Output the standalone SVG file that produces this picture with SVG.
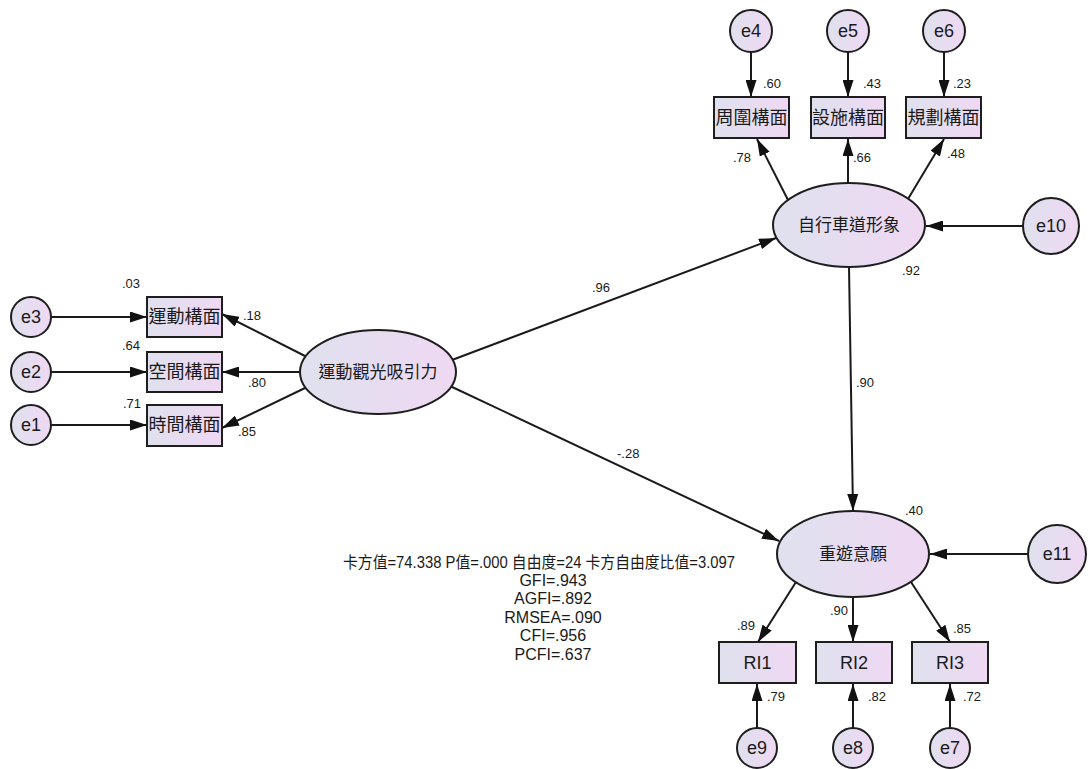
<svg xmlns="http://www.w3.org/2000/svg" width="1089" height="769" viewBox="0 0 1089 769">
<style>
.n{stroke:#1e1e1e;stroke-width:2;fill:url(#g)}
.t{font-family:"Liberation Sans","Noto Sans CJK TC",sans-serif;fill:#1a1a1a;text-anchor:middle;dominant-baseline:central}
.bt{font-size:18px}
.et{font-size:17px}
.ct{font-size:18px}
.lb{font-family:"Liberation Sans","Noto Sans CJK TC",sans-serif;font-size:13px;fill:#1a1a1a}
.fit{font-family:"Liberation Sans","Noto Sans CJK TC",sans-serif;font-size:16px;fill:#1a1a1a;text-anchor:middle}
.c{stroke:#1a1a1a;stroke-width:2;fill:none;marker-end:url(#a)}
</style>
<defs>
<linearGradient id="g" x1="0" y1="0" x2="1" y2="0">
<stop offset="0" stop-color="#dfe1ee"/>
<stop offset="1" stop-color="#efd8f3"/>
</linearGradient>
<marker id="a" viewBox="0 0 17 11" refX="17" refY="5.5" markerWidth="17" markerHeight="11" markerUnits="userSpaceOnUse" orient="auto">
<path d="M0,0 L17,5.5 L0,11 z" fill="#111"/>
</marker>
</defs>
<rect width="1089" height="769" fill="#fff"/>

<g id="connectors">
<line class="c" x1="51" y1="317" x2="147" y2="317"/>
<line class="c" x1="51" y1="372" x2="147" y2="372"/>
<line class="c" x1="51" y1="425" x2="147" y2="425"/>
<line class="c" x1="305" y1="356" x2="222" y2="314"/>
<line class="c" x1="300" y1="372" x2="222" y2="372"/>
<line class="c" x1="305" y1="388" x2="222" y2="428"/>
<line class="c" x1="452" y1="360" x2="776" y2="238"/>
<line class="c" x1="450" y1="386" x2="779" y2="541"/>
<line class="c" x1="751" y1="52" x2="751" y2="97"/>
<line class="c" x1="848" y1="52" x2="848" y2="97"/>
<line class="c" x1="944" y1="52" x2="944" y2="97"/>
<line class="c" x1="788" y1="200" x2="757" y2="139"/>
<line class="c" x1="848" y1="183" x2="848" y2="139"/>
<line class="c" x1="908" y1="199" x2="944" y2="139"/>
<line class="c" x1="1023" y1="226" x2="926" y2="226"/>
<line class="c" x1="849" y1="267" x2="853" y2="511"/>
<line class="c" x1="1028" y1="554" x2="930" y2="554"/>
<line class="c" x1="796" y1="582" x2="758" y2="642"/>
<line class="c" x1="853" y1="597" x2="853" y2="642"/>
<line class="c" x1="911" y1="582" x2="950" y2="642"/>
<line class="c" x1="757" y1="728" x2="757" y2="684"/>
<line class="c" x1="853" y1="728" x2="853" y2="684"/>
<line class="c" x1="950" y1="728" x2="950" y2="684"/>
</g>

<g id="e3"><circle class="n" cx="31" cy="317" r="20"/><text class="t ct" x="31" y="317">e3</text></g>
<g id="e2"><circle class="n" cx="31" cy="372" r="20"/><text class="t ct" x="31" y="372">e2</text></g>
<g id="e1"><circle class="n" cx="31" cy="425" r="20"/><text class="t ct" x="31" y="425">e1</text></g>
<g id="box-sport"><rect class="n" x="147" y="297" width="75" height="40"/><text class="t bt" x="184.5" y="317">運動構面</text></g>
<g id="box-space"><rect class="n" x="147" y="352" width="75" height="40"/><text class="t bt" x="184.5" y="372">空間構面</text></g>
<g id="box-time"><rect class="n" x="147" y="405" width="75" height="41"/><text class="t bt" x="184.5" y="425">時間構面</text></g>
<g id="attract"><ellipse class="n" cx="378" cy="372" rx="78" ry="42"/><text class="t et" x="378" y="372">運動觀光吸引力</text></g>

<g id="e4"><circle class="n" cx="751" cy="31" r="21"/><text class="t ct" x="751" y="31">e4</text></g>
<g id="e5"><circle class="n" cx="848" cy="31" r="21"/><text class="t ct" x="848" y="31">e5</text></g>
<g id="e6"><circle class="n" cx="944" cy="31" r="21"/><text class="t ct" x="944" y="31">e6</text></g>
<g id="box-around"><rect class="n" x="714" y="97" width="75" height="41"/><text class="t bt" x="751.5" y="117.5">周圍構面</text></g>
<g id="box-facility"><rect class="n" x="811" y="97" width="74" height="41"/><text class="t bt" x="848" y="117.5">設施構面</text></g>
<g id="box-plan"><rect class="n" x="906" y="97" width="75" height="41"/><text class="t bt" x="943.5" y="117.5">規劃構面</text></g>
<g id="bike"><ellipse class="n" cx="849" cy="225" rx="76" ry="42"/><text class="t et" x="849" y="225">自行車道形象</text></g>
<g id="e10"><circle class="n" cx="1051" cy="226" r="28"/><text class="t ct" x="1051" y="226">e10</text></g>

<g id="revisit"><ellipse class="n" cx="853" cy="554" rx="76" ry="43"/><text class="t et" x="853" y="554">重遊意願</text></g>
<g id="e11"><circle class="n" cx="1057" cy="554" r="29"/><text class="t ct" x="1057" y="554">e11</text></g>
<g id="RI1"><rect class="n" x="719" y="642" width="77" height="41"/><text class="t ct" x="757.5" y="662.5">RI1</text></g>
<g id="RI2"><rect class="n" x="816" y="642" width="76" height="41"/><text class="t ct" x="854" y="662.5">RI2</text></g>
<g id="RI3"><rect class="n" x="912" y="642" width="76" height="41"/><text class="t ct" x="950" y="662.5">RI3</text></g>
<g id="e9"><circle class="n" cx="757" cy="748" r="20"/><text class="t ct" x="757" y="748">e9</text></g>
<g id="e8"><circle class="n" cx="853" cy="748" r="20"/><text class="t ct" x="853" y="748">e8</text></g>
<g id="e7"><circle class="n" cx="950" cy="748" r="20"/><text class="t ct" x="950" y="748">e7</text></g>

<g id="labels">
<text class="lb" x="122" y="288">.03</text>
<text class="lb" x="243" y="320">.18</text>
<text class="lb" x="122" y="350">.64</text>
<text class="lb" x="248" y="387">.80</text>
<text class="lb" x="123" y="408">.71</text>
<text class="lb" x="238" y="436">.85</text>
<text class="lb" x="763" y="88">.60</text>
<text class="lb" x="863" y="88">.43</text>
<text class="lb" x="953" y="88">.23</text>
<text class="lb" x="733" y="162">.78</text>
<text class="lb" x="853" y="162">.66</text>
<text class="lb" x="947" y="158">.48</text>
<text class="lb" x="902" y="275">.92</text>
<text class="lb" x="592" y="292">.96</text>
<text class="lb" x="856" y="387">.90</text>
<text class="lb" x="617" y="458">-.28</text>
<text class="lb" x="905" y="515">.40</text>
<text class="lb" x="737" y="630">.89</text>
<text class="lb" x="830" y="615">.90</text>
<text class="lb" x="953" y="633">.85</text>
<text class="lb" x="767" y="701">.79</text>
<text class="lb" x="868" y="701">.82</text>
<text class="lb" x="963" y="701">.72</text>
</g>

<g id="fit">
<text class="fit" x="539" y="568" textLength="392" lengthAdjust="spacingAndGlyphs">卡方值=74.338 P值=.000 自由度=24 卡方自由度比值=3.097</text>
<text class="fit" x="553" y="586">GFI=.943</text>
<text class="fit" x="553" y="604">AGFI=.892</text>
<text class="fit" x="553" y="623">RMSEA=.090</text>
<text class="fit" x="553" y="641">CFI=.956</text>
<text class="fit" x="553" y="660">PCFI=.637</text>
</g>
</svg>
